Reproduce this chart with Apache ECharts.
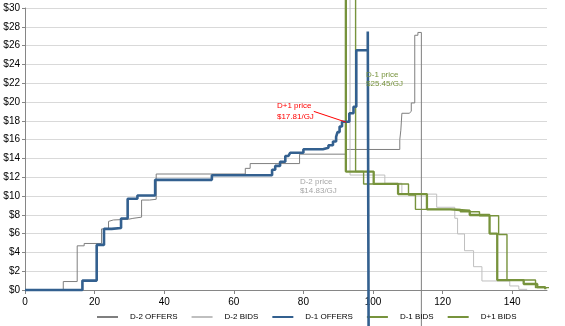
<!DOCTYPE html>
<html><head><meta charset="utf-8">
<script src="https://cdn.jsdelivr.net/npm/echarts@6/dist/echarts.min.js"></script>
<style>html,body{margin:0;padding:0;background:#fff}#c{width:565px;height:326px}</style>
</head><body><div id="c"></div>
<script>
// ---- data (quantity, price) ----
const xTicks = [0, 20, 40, 60, 80, 100, 120, 140];
const seriesNames = ['D-2 OFFERS', 'D-2 BIDS', 'D-1 OFFERS', 'D-1 BIDS', 'D+1 BIDS'];

const d2OffersQty   = [0, 11, 15, 17, 22, 24, 24.5, 25.4, 29.7, 31, 33.5, 35.8, 37.7, 63.3, 64.7, 78.9, 92.2, 107.7, 108.0, 108.3, 110.4, 111.0, 112.0, 112.9, 113.9];
const d2OffersPrice = [0, 0.9, 4.7, 4.95, 6.5, 7.3, 7.45, 7.52, 7.62, 7.75, 9.57, 9.65, 12.34, 12.94, 13.45, 14.45, 14.95, 16.0, 17.0, 18.8, 19.0, 19.9, 27.1, 27.4, -6];

const d2BidsQty   = [93.4, 93.4, 103.4, 108.3, 118.3, 123.5, 124.3, 126.3, 128.9, 131.3, 139.3, 141.9, 144.3];
const d2BidsPrice = [40, 12.23, 11.35, 10.2, 8.8, 7.63, 5.96, 4.18, 2.48, 0.96, 0.43, 0.07, 0];

const d1OffersQty   = [0, 16.5, 20.6, 22.7, 24.9, 27.6, 29.5, 32.3, 37.4, 53.7, 71.0, 71.9, 73.3, 74.8, 75.7, 76.2, 80.0, 85.6, 87.2, 88.5, 89.4, 89.8, 90.4, 91.1, 93.2, 94.4, 95.2, 98.5, 98.75];
const d1OffersPrice = [0, 1.0, 4.8, 6.5, 6.6, 7.6, 9.7, 10.06, 11.72, 12.2, 12.8, 13.2, 13.65, 14.26, 14.47, 14.6, 14.97, 15.14, 15.4, 15.8, 16.3, 16.8, 17.4, 17.9, 18.8, 19.5, 25.5, 27.5, -6];

const d1BidsQty   = [95.0, 95.0, 97.3, 110.2, 112.2, 125.1, 130.6, 136.1, 138.5, 146.7, 151.8];
const d1BidsPrice = [40, 12.6, 11.28, 10.1, 8.58, 8.33, 7.9, 5.9, 1.06, 0.25, 0.25];

const dp1BidsQty   = [92.2, 92.2, 100.2, 107.2, 115.5, 122.2, 127.8, 133.5, 135.7, 143.3, 147.2, 149.5];
const dp1BidsPrice = [40, 12.6, 11.28, 10.2, 8.58, 8.43, 7.98, 6.0, 1.06, 0.64, 0.3, 0.07];

const priceNotes = [
  { lines: ['D+1 price', '$17.81/GJ'], at: [72.4, 20.2], color: '#ff0000', lh: 11 },
  { lines: ['D-1 price', '$25.45/GJ'], at: [98.0, 23.35], color: '#77933c', lh: 9 },
  { lines: ['D-2 price', '$14.83/GJ'], at: [79.0, 11.94], color: '#a6a6a6', lh: 9 }
];
const leader = [[83.0, 19.0], [92.3, 17.85]];

// ---- build ----
const pairs = (q, p) => q.map((v, i) => [v, p[i]]);
const styles = [
  { color: '#7f7f7f', width: 1, z: 2 },
  { color: '#bfbfbf', width: 1, z: 2 },
  { color: '#33608f', width: 2.6, z: 5 },
  { color: '#77933c', width: 1.4, z: 3 },
  { color: '#77933c', width: 2.3, z: 4 }
];
const dataSets = [
  pairs(d2OffersQty, d2OffersPrice),
  pairs(d2BidsQty, d2BidsPrice),
  pairs(d1OffersQty, d1OffersPrice),
  pairs(d1BidsQty, d1BidsPrice),
  pairs(dp1BidsQty, dp1BidsPrice)
];
const FONT = "'Liberation Sans', Arial, sans-serif";
const chart = echarts.init(document.getElementById('c'), null, { renderer: 'canvas' });
chart.setOption({
  animation: false,
  backgroundColor: '#fff',
  grid: { left: 25, right: 18, top: 8, bottom: 36, containLabel: false, outerBoundsMode: 'none' },
  xAxis: {
    type: 'value', min: 0, max: 150, interval: 20,
    axisLine: { show: true, onZero: false, lineStyle: { color: '#868686', width: 1 } },
    axisTick: { show: true, length: 4, lineStyle: { color: '#868686' }, customValues: xTicks },
    axisLabel: { color: '#000', fontSize: 10, fontFamily: 'Liberation Sans', margin: 7, customValues: xTicks },
    splitLine: { show: false }
  },
  yAxis: {
    type: 'value', min: 0, max: 30, interval: 2,
    axisLine: { show: true, lineStyle: { color: '#868686', width: 1 } },
    axisTick: { show: true, length: 3, lineStyle: { color: '#868686' } },
    axisLabel: { color: '#000', fontSize: 10, fontFamily: 'Liberation Sans', margin: 5, formatter: v => '$' + v },
    splitLine: { show: true, lineStyle: { color: '#d9d9d9', width: 1 } }
  },
  legend: {
    data: seriesNames, left: 96, top: 313, padding: 0, itemWidth: 21, itemHeight: 10, itemGap: 13,
    itemStyle: { opacity: 0 },
    textStyle: { color: '#000', fontSize: 8, fontFamily: FONT, padding: [0, 0, 0, 7] }
  },
  series: seriesNames.map((name, i) => ({
    name, type: 'line', step: 'end', clip: false, symbol: 'none', showSymbol: false,
    z: styles[i].z, data: dataSets[i],
    lineStyle: { color: styles[i].color, width: styles[i].width },
    itemStyle: { color: styles[i].color },
    emphasis: { disabled: true }
  }))
});
const px = p => chart.convertToPixel({ gridIndex: 0 }, p);
const g = [];
priceNotes.forEach(n => {
  const p = px(n.at);
  g.push({ type: 'text', x: p[0], y: p[1], z: 10, style: { text: n.lines.join('\n'), fill: n.color, font: "8px " + FONT, lineHeight: n.lh } });
});
const a = px(leader[0]), b = px(leader[1]);
g.push({ type: 'line', z: 10, shape: { x1: a[0], y1: a[1], x2: b[0], y2: b[1] }, style: { stroke: '#ff0000', lineWidth: 1 } });
chart.setOption({ graphic: g });
</script></body></html>
